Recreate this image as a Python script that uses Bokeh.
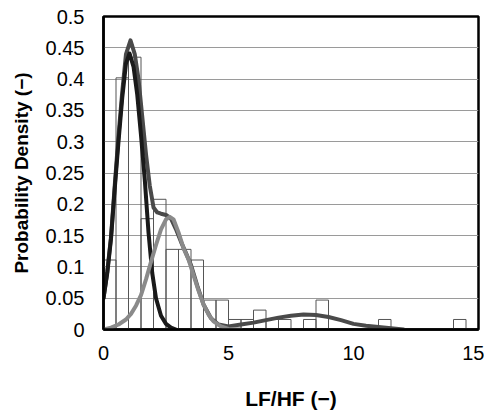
from bokeh.plotting import figure
from bokeh.embed import file_html
from bokeh.resources import INLINE
from bokeh.models import FixedTicker, Range1d

# Histogram (bin width 0.5)
bin_left = [0.0, 0.5, 1.0, 1.5, 2.0, 2.5, 3.0, 3.5, 4.0, 4.5, 5.0, 5.5, 6.0, 6.5, 7.0,
            7.5, 8.0, 8.5, 9.0, 9.5, 10.0, 10.5, 11.0, 11.5, 12.0, 12.5, 13.0, 13.5, 14.0, 14.5]
bin_density = [0.111, 0.402, 0.435, 0.177, 0.208, 0.128, 0.128, 0.111, 0.047, 0.047, 0.016, 0.016, 0.031, 0.016, 0.016,
               0.0, 0.016, 0.047, 0.0, 0.0, 0.0, 0.0, 0.016, 0.0, 0.0, 0.0, 0.0, 0.0, 0.016, 0.0]
bin_width = 0.5

# Black curve (first component)
black_x = [0, 0.15, 0.3, 0.45, 0.6, 0.75, 0.9, 1.04, 1.2, 1.35, 1.5, 1.65, 1.8, 1.95, 2.1, 2.3, 2.5, 2.7, 2.9]
black_y = [0.05, 0.09, 0.145, 0.225, 0.30, 0.37, 0.425, 0.441, 0.42, 0.375, 0.31, 0.24, 0.155, 0.09, 0.05, 0.022, 0.009, 0.003, 0.0]

# Light grey curve (second component)
lgray_x = [0, 0.3, 0.6, 0.9, 1.1, 1.3, 1.5, 1.7, 1.9, 2.1, 2.3, 2.5, 2.65, 2.8, 3.0, 3.2, 3.4, 3.6, 3.8, 4.0, 4.2, 4.4, 4.7, 5.0, 5.5]
lgray_y = [0.0, 0.003, 0.008, 0.016, 0.025, 0.038, 0.055, 0.08, 0.108, 0.135, 0.16, 0.176, 0.18, 0.176, 0.155, 0.13, 0.112, 0.087, 0.062, 0.04, 0.024, 0.013, 0.005, 0.001, 0.0]

# Dark grey curve (mixture)
dgray_x = [0, 0.15, 0.3, 0.45, 0.6, 0.75, 0.9, 1.08, 1.25, 1.4, 1.55, 1.7, 1.85, 2.0, 2.15, 2.3, 2.5, 2.7, 2.9, 3.1,
           3.3, 3.5, 3.75, 4.0, 4.3, 4.6, 5.0, 5.5, 6.0, 6.5, 7.0, 7.5, 8.0, 8.5, 9.0, 9.5, 10.0, 10.5, 11.0, 11.5, 12.0]
dgray_y = [0.05, 0.092, 0.148, 0.23, 0.31, 0.38, 0.44, 0.462, 0.44, 0.40, 0.34, 0.28, 0.23, 0.195, 0.187, 0.185, 0.183, 0.177, 0.16, 0.14,
           0.122, 0.103, 0.07, 0.04, 0.018, 0.008, 0.005, 0.008, 0.011, 0.015, 0.019, 0.022, 0.024, 0.023, 0.02, 0.015, 0.009, 0.006, 0.004, 0.002, 0.0]

x_ticks = [0, 5, 10, 15]
y_ticks = [0, 0.05, 0.1, 0.15, 0.2, 0.25, 0.3, 0.35, 0.4, 0.45, 0.5]
y_tick_labels = ["0", "0.05", "0.1", "0.15", "0.2", "0.25", "0.3", "0.35", "0.4", "0.45", "0.5"]

p = figure(width=484, height=412, output_backend="svg", toolbar_location=None,
           x_range=Range1d(0, 15), y_range=Range1d(0, 0.5),
           min_border_left=103, min_border_right=6, min_border_top=16, min_border_bottom=79)

bin_right = [b + bin_width for b in bin_left]
p.quad(left=bin_left, right=bin_right, bottom=0, top=bin_density,
       fill_alpha=0, line_color="#555555", line_width=1)

p.line(dgray_x, dgray_y, line_color="#4a4a4a", line_width=4, line_join="round", line_cap="round")
p.line(black_x, black_y, line_color="#1a1a1a", line_width=4, line_join="round", line_cap="round")
p.line(lgray_x, lgray_y, line_color="#8a8a8a", line_width=4, line_join="round", line_cap="round")

p.xgrid.grid_line_color = None
p.ygrid.grid_line_color = "#9a9a9a"
p.ygrid.grid_line_width = 1
p.ygrid.ticker = FixedTicker(ticks=y_ticks)

p.outline_line_color = "black"
p.outline_line_width = 2.5
p.outline_line_alpha = 1

p.xaxis.ticker = FixedTicker(ticks=x_ticks)
p.yaxis.ticker = FixedTicker(ticks=y_ticks)
p.yaxis.major_label_overrides = {t: l for t, l in zip(y_ticks, y_tick_labels)}

for ax in (p.xaxis, p.yaxis):
    ax.axis_line_color = "black"
    ax.axis_line_width = 2.5
    ax.major_tick_line_color = None
    ax.minor_tick_line_color = None
    ax.major_tick_out = 0
    ax.major_label_text_font = "Liberation Sans"
    ax.major_label_text_font_size = "20px"
    ax.major_label_text_color = "black"
    ax.axis_label_text_font = "Liberation Sans"
    ax.axis_label_text_font_style = "bold"
    ax.axis_label_text_color = "black"

p.yaxis.axis_label_text_font_size = "19px"
p.xaxis.axis_label_text_font_size = "21px"
p.yaxis.major_label_standoff = 19
p.xaxis.major_label_standoff = 16
p.yaxis.axis_label = "Probability Density (−)"
p.xaxis.axis_label = "LF/HF (−)"
p.yaxis.axis_label_standoff = 11
p.xaxis.axis_label_standoff = 24

open("out.html", "w").write(file_html(p, INLINE))
